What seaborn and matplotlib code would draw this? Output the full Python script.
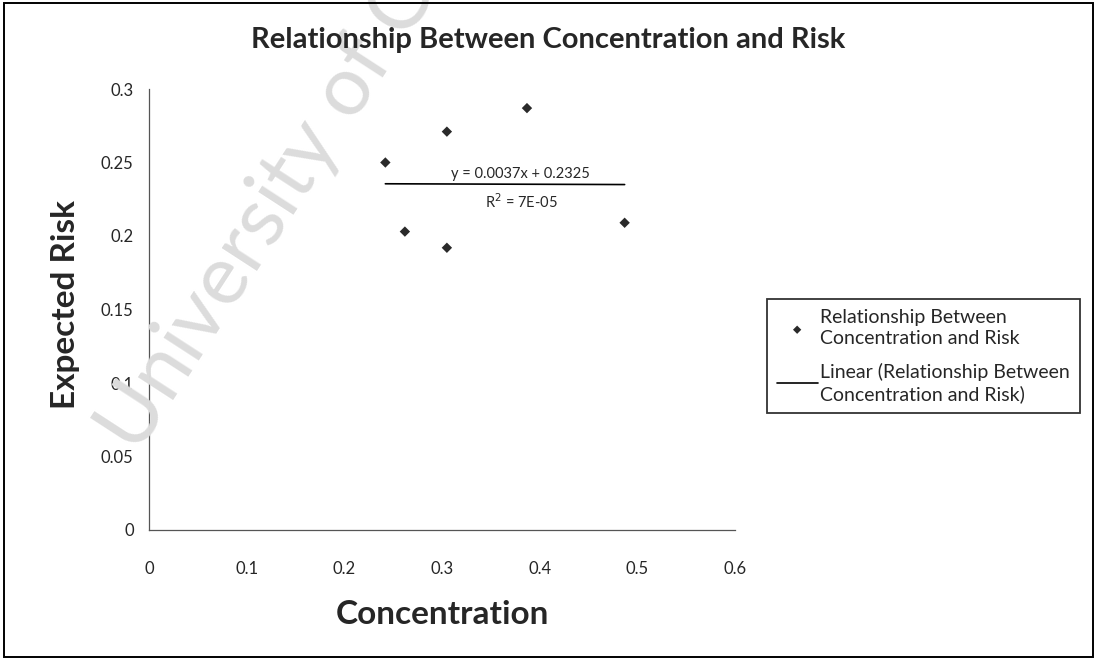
import numpy as np
import pandas as pd
import matplotlib
matplotlib.use('Agg')
import matplotlib.pyplot as plt
from matplotlib.patches import Rectangle
import seaborn as sns

# values
concentration = [0.242, 0.262, 0.305, 0.305, 0.387, 0.487]
expected_risk = [0.250, 0.203, 0.271, 0.192, 0.287, 0.209]
x_ticks = [0, 0.1, 0.2, 0.3, 0.4, 0.5, 0.6]
y_ticks = [0, 0.05, 0.1, 0.15, 0.2, 0.25, 0.3]
x_ticklabels = ['0', '0.1', '0.2', '0.3', '0.4', '0.5', '0.6']
y_ticklabels = ['0', '0.05', '0.1', '0.15', '0.2', '0.25', '0.3']
eq_text = 'y = 0.0037x + 0.2325'
r2_text = 'R$^2$ = 7E-05'
series_name = 'Relationship Between\nConcentration and Risk'
trend_name = 'Linear (Relationship Between\nConcentration and Risk)'

df = pd.DataFrame({'Concentration': concentration, 'Expected Risk': expected_risk})

sns.set_style('white')
plt.rcParams['font.family'] = ['Lato', 'DejaVu Sans']

fig = plt.figure(figsize=(10.97, 6.61), dpi=100)
ax = fig.add_axes([149 / 1097, 1 - 530 / 661, (735 - 149) / 1097, (530 - 89) / 661])

# watermark behind everything
fig.text(0.125, 0.31, 'University of Cape Town', fontsize=60, color='#dcdcdc',
         rotation=57, rotation_mode='anchor', ha='left', va='baseline', zorder=0)
ax.patch.set_alpha(0)

sns.scatterplot(data=df, x='Concentration', y='Expected Risk', ax=ax, marker='D',
                s=28, color='#2a2a2a', edgecolor='none', label=series_name, zorder=3)
sns.regplot(data=df, x='Concentration', y='Expected Risk', ax=ax, scatter=False,
            ci=None, truncate=True, line_kws={'color': 'black', 'lw': 1.2},
            label=trend_name)

ax.set_xlim(0, 0.6)
ax.set_ylim(0, 0.3)
ax.set_xticks(x_ticks)
ax.set_xticklabels(x_ticklabels)
ax.set_yticks(y_ticks)
ax.set_yticklabels(y_ticklabels)
ax.tick_params(axis='y', direction='out', length=4, width=0.8, color='#444',
               pad=7, labelsize=12)
ax.tick_params(axis='x', direction='out', length=0, pad=22, labelsize=12)
ax.set_xlabel('')
ax.set_ylabel('')
for s in ['top', 'right']:
    ax.spines[s].set_visible(False)
for s in ['left', 'bottom']:
    ax.spines[s].set_color('#555555')
    ax.spines[s].set_linewidth(0.9)

ax.text(0.633, 0.808, eq_text, transform=ax.transAxes, ha='center', va='center', fontsize=10.5)
ax.text(0.636, 0.745, r2_text, transform=ax.transAxes, ha='center', va='center', fontsize=10.5)

fig.text(0.5, 1 - 40 / 661, 'Relationship Between Concentration and Risk',
         ha='center', va='center', fontsize=21, fontweight='bold')
fig.text(442 / 1097, 1 - 615 / 661, 'Concentration', ha='center', va='center',
         fontsize=24, fontweight='bold')
fig.text(66 / 1097, 1 - 305 / 661, 'Expected Risk', ha='center', va='center',
         rotation=90, fontsize=24, fontweight='bold')

leg = ax.legend(loc='upper left', bbox_to_anchor=(767 / 1097, 1 - 299 / 661),
                bbox_transform=fig.transFigure, fontsize=14, frameon=True,
                fancybox=False, borderaxespad=0, borderpad=0.5, handlelength=2.1,
                handletextpad=0.15, labelspacing=0.8, markerscale=0.8)
for t in leg.get_texts():
    t.set_linespacing(1.3)
leg.get_frame().set_edgecolor('black')
leg.get_frame().set_linewidth(1.3)

fig.patches.append(Rectangle((0.004, 0.006), 0.992, 0.99, transform=fig.transFigure,
                             fill=False, edgecolor='black', linewidth=1.4))

plt.savefig('out.png', dpi=100)
